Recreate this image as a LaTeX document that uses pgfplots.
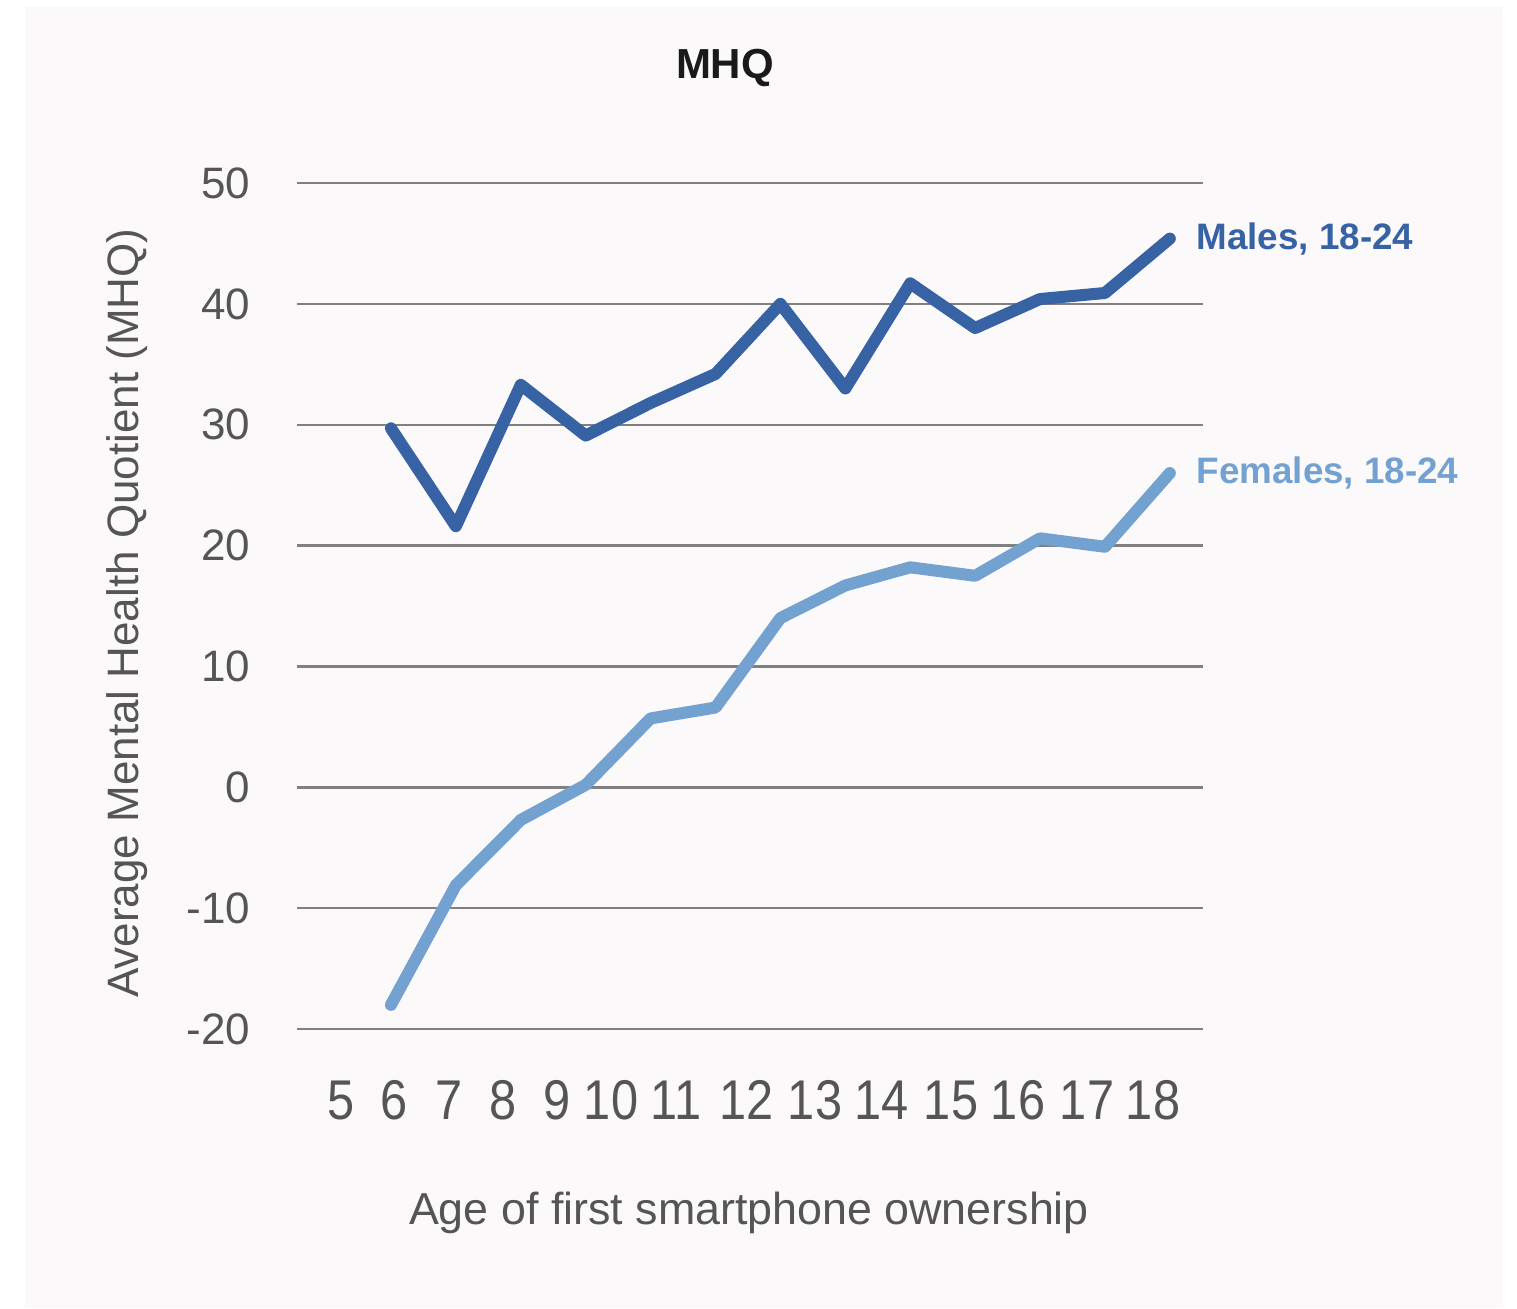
\documentclass[border=0pt]{standalone}
\usepackage{fontspec}
\setmainfont{Liberation Sans}
\newfontfamily\xtickfont[FakeStretch=0.87]{Liberation Sans}
\usepackage{pgfplots}
\pgfplotsset{compat=1.18}
\definecolor{bgpanel}{HTML}{FBF9FA}
\definecolor{males}{HTML}{3763A4}
\definecolor{females}{HTML}{74A2D0}
\definecolor{txt}{HTML}{555555}
\definecolor{gridc}{HTML}{808080}
\definecolor{titlec}{HTML}{1A1A1A}

\pgfplotstableread{
age males females
6  29.7 -18.0
7  21.6  -8.1
8  33.3  -2.7
9  29.1   0.2
10 31.8   5.7
11 34.2   6.6
12 40.0  14.0
13 33.0  16.7
14 41.7  18.2
15 38.0  17.5
16 40.4  20.6
17 40.9  19.9
18 45.4  26.0
}\mhq

\begin{document}
\begin{tikzpicture}[x=1pt,y=1pt]
\path[use as bounding box] (0,0) rectangle (379.25,327);
\fill[white] (0,0) rectangle (379.25,327);
\fill[bgpanel] (6.25,0) rectangle (375.75,325.25);
\begin{axis}[
  at={(74.25pt,69.75pt)}, anchor=south west,
  scale only axis, width=226.5pt, height=211.5pt,
  xmin=4.552, xmax=18.511, ymin=-20, ymax=50,
  axis line style={draw=none},
  major tick length=0pt,
  clip=false,
  ymajorgrids,
  grid style={gridc, line width=0.6pt},
  ytick={-20,-10,0,10,20,30,40,50},
  yticklabels={-20,-10,0,10,20,30,40,50},
  yticklabel style={font=\fontsize{11}{11}\selectfont, text=txt, anchor=east, inner sep=0pt, xshift=-11.5pt},
  xtick={5.237,6.046,6.894,7.726,8.558,9.390,10.391,11.485,12.533,13.565,14.629,15.661,16.724,17.741},
  xticklabels={5,6,7,8,9,10,11,12,13,14,15,16,17,18},
  xticklabel style={font=\xtickfont\fontsize{14}{14}\selectfont, text=txt, anchor=north, inner sep=0pt, yshift=-12.75pt},
  every axis title shift=0pt,
  title={MHQ},
  title style={at={(axis description cs:0.4724,1.1359)}, anchor=center, yshift=0pt, font=\bfseries\fontsize{10.5}{12}\selectfont, text=titlec},
  xlabel={Age of first smartphone ownership},
  xlabel style={at={(axis description cs:0.4989,-0.2175)}, anchor=center, font=\fontsize{11.2}{13}\selectfont, text=txt},
  ylabel={Average Mental Health Quotient (MHQ)},
  ylabel style={at={(axis description cs:-0.1876,0.4917)}, rotate=0, anchor=center, font=\fontsize{11}{13}\selectfont, text=txt},
]
\addplot[females, line width=3pt, line join=round, line cap=round, no markers] table[x=age, y=females] {\mhq};
\addplot[males, line width=3pt, line join=round, line cap=round, no markers] table[x=age, y=males] {\mhq};
\node[anchor=west, inner sep=0pt, xshift=6.5pt, text=males, font=\bfseries\fontsize{9.2}{10}\selectfont] at (axis cs:18,45.4) {Males, 18-24};
\node[anchor=west, inner sep=0pt, xshift=6.5pt, text=females, font=\bfseries\fontsize{9.2}{10}\selectfont] at (axis cs:18,26.0) {Females, 18-24};
\end{axis}
\end{tikzpicture}
\end{document}
